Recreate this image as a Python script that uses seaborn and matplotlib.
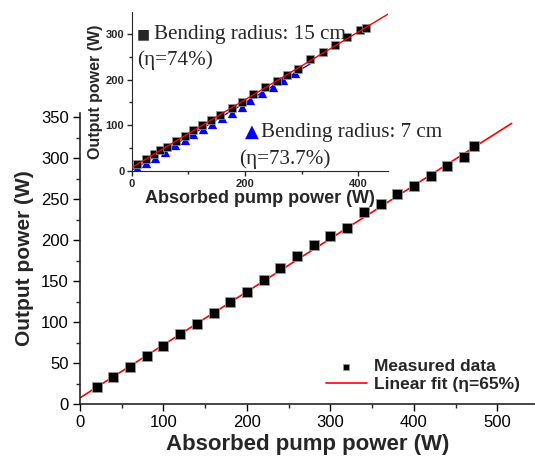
import numpy as np
import matplotlib
matplotlib.use("Agg")
import matplotlib.pyplot as plt
import seaborn as sns
from matplotlib.ticker import MultipleLocator

sns.set_style("ticks")
plt.rcParams['font.family'] = ['Liberation Sans', 'DejaVu Sans']

# main plot data (absorbed pump power vs output power)
main_x = [20, 40, 60, 80, 100, 120, 140, 160, 180, 200, 220, 240,
          260, 280, 300, 320, 340, 360, 380, 400, 420, 440, 460, 472]
main_y = [20.7, 33, 45, 58, 71, 85, 98, 111, 124, 137, 151, 166,
          181, 194, 205, 215, 234, 244, 256, 266, 278, 290, 302, 315]
main_fit_slope = 0.648
main_fit_icpt = 7.5
main_fit_end = 517

# inset: bending radius 15 cm
sq_x = [9, 25, 39, 50, 62, 78, 94, 108, 124, 140, 156, 177, 195, 214,
        235, 256, 275, 294, 315, 338, 359, 381, 404, 414]
sq_y = [15, 26, 37, 45, 53, 66, 77, 90, 101, 112, 123, 138, 152, 168,
        184, 197, 210, 223, 245, 260, 276, 294, 308, 313]
sq_fit_slope = 0.74
sq_fit_icpt = 8
sq_fit_end = 453

# inset: bending radius 7 cm
tri_x = [9, 25, 41, 58, 76, 94, 108, 126, 142, 159, 177, 195, 209,
         230, 250, 267, 288]
tri_y = [7, 17, 28, 42, 57, 68, 81, 92, 103, 116, 127, 140, 155,
         170, 184, 199, 214]
tri_fit_slope = 0.737
tri_fit_icpt = 2
tri_fit_end = 315

fig = plt.figure(figsize=(5.35, 4.61), dpi=100)
ax = fig.add_axes([0.1495, 0.1236, 0.8505, 0.631])

sns.scatterplot(x=main_x, y=main_y, ax=ax, marker='s', s=60, color='black',
                edgecolor='#999999', linewidth=0.6, label='Measured data', zorder=3)
fx = np.array([0, main_fit_end])
sns.lineplot(x=fx, y=main_fit_slope * fx + main_fit_icpt, ax=ax, color='red',
             linewidth=1.2, label='Linear fit (η=65%)', zorder=2)

ax.set_xlim(0, 545)
ax.set_ylim(0, 355)
ax.xaxis.set_major_locator(MultipleLocator(100))
ax.xaxis.set_minor_locator(MultipleLocator(50))
ax.yaxis.set_major_locator(MultipleLocator(50))
ax.yaxis.set_minor_locator(MultipleLocator(25))
ax.tick_params(which='major', length=5, width=1, labelsize=12, colors='black', pad=3)
ax.tick_params(which='minor', length=3, width=1)
for s in ['top', 'right']:
    ax.spines[s].set_visible(False)
for s in ['left', 'bottom']:
    ax.spines[s].set_linewidth(1.2)
ax.set_xlabel('Absorbed pump power (W)', fontsize=16, fontweight='bold', labelpad=3)
ax.set_ylabel('Output power (W)', fontsize=15, fontweight='bold', labelpad=5)

leg = ax.legend(loc='lower right', bbox_to_anchor=(0.975, 0.03), frameon=False,
                prop={'weight': 'bold', 'size': 12.5}, markerscale=0.55,
                handlelength=2.4, handletextpad=0.4, borderaxespad=0,
                borderpad=0.2, labelspacing=0.15)

# inset
ins = fig.add_axes([0.2467, 0.629, 0.4785, 0.345])
sns.lineplot(x=np.array([0, tri_fit_end]),
             y=tri_fit_slope * np.array([0, tri_fit_end]) + tri_fit_icpt,
             ax=ins, color='blue', linewidth=0.9, zorder=1)
sns.scatterplot(x=tri_x, y=tri_y, ax=ins, marker='^', s=45, color='blue',
                edgecolor='blue', linewidth=0, zorder=2)
sns.scatterplot(x=sq_x, y=sq_y, ax=ins, marker='s', s=32, color='black',
                edgecolor='#999999', linewidth=0.5, zorder=3)
ix = np.array([0, sq_fit_end])
sns.lineplot(x=ix, y=sq_fit_slope * ix + sq_fit_icpt, ax=ins, color='red',
             linewidth=1.0, zorder=4)
ins.set_xlim(0, 453)
ins.set_ylim(0, 348)
ins.xaxis.set_major_locator(MultipleLocator(200))
ins.xaxis.set_minor_locator(MultipleLocator(100))
ins.yaxis.set_major_locator(MultipleLocator(100))
ins.yaxis.set_minor_locator(MultipleLocator(50))
ins.tick_params(which='major', length=3.5, width=1, labelsize=8, pad=2)
ins.tick_params(which='minor', length=2, width=1)
for lab in ins.get_xticklabels() + ins.get_yticklabels():
    lab.set_fontweight('bold')
for s in ['top', 'right']:
    ins.spines[s].set_visible(False)
ins.patch.set_alpha(0)
ins.set_xlabel('Absorbed pump power (W)', fontsize=13, fontweight='bold', labelpad=1)
ins.set_ylabel('Output power (W)', fontsize=11.5, fontweight='bold', labelpad=2)

serif = ['Liberation Serif', 'DejaVu Serif']
ins.text(0.02, 0.86, '■', transform=ins.transAxes, fontsize=10, family=['DejaVu Sans'],
         va='center')
ins.text(0.085, 0.86, 'Bending radius: 15 cm', transform=ins.transAxes, fontsize=15.2,
         family=serif, va='center')
ins.text(0.02, 0.70, '(η=74%)', transform=ins.transAxes, fontsize=15.2,
         family=serif, va='center')
ins.text(0.44, 0.245, '▲', transform=ins.transAxes, fontsize=13, color='blue',
         family=['DejaVu Sans'], va='center')
ins.text(0.505, 0.245, 'Bending radius: 7 cm', transform=ins.transAxes, fontsize=15.2,
         family=serif, va='center', clip_on=False)
ins.text(0.42, 0.075, '(η=73.7%)', transform=ins.transAxes, fontsize=15.2,
         family=serif, va='center')

fig.savefig('out.png', dpi=100)
